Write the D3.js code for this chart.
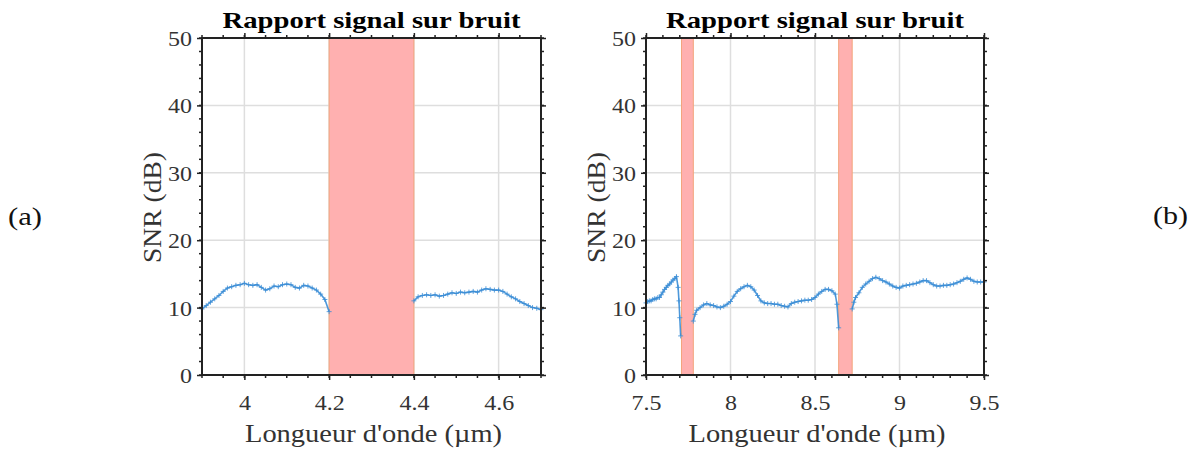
<!DOCTYPE html>
<html><head><meta charset="utf-8">
<script src="https://cdn.jsdelivr.net/npm/d3@7"></script>
<style>
body{margin:0;background:#fff;}
svg text{font-family:"Liberation Serif","Times New Roman",Tinos,serif !important;}
</style></head>
<body><svg id="c" width="1196" height="452"></svg>
<script>
// ---- data ----
const titleText = "Rapport signal sur bruit";
const xLabel = "Longueur d'onde (\u00b5m)";
const yLabel = "SNR (dB)";
const panelLabels = ["(a)", "(b)"];

const yTicks = [0, 10, 20, 30, 40, 50];
const xTicksA = [4, 4.2, 4.4, 4.6];
const xTicksB = [7.5, 8, 8.5, 9, 9.5];

const bandsA = [[4.2, 4.4]];
const bandsB = [[7.71, 7.78], [8.64, 8.72]];

const snrA1 = [[3.90,9.8],[3.91,10.3],[3.92,10.8],[3.93,11.3],[3.94,11.8],[3.95,12.4],[3.96,12.9],[3.97,13.1],[3.98,13.3],[3.99,13.4],[4.00,13.6],[4.01,13.4],[4.02,13.3],[4.03,13.4],[4.04,13.0],[4.05,12.6],[4.06,12.8],[4.07,13.2],[4.08,13.1],[4.09,13.4],[4.10,13.5],[4.11,13.4],[4.12,13.0],[4.13,12.9],[4.14,13.3],[4.15,13.2],[4.16,12.9],[4.17,12.6],[4.18,12.0],[4.19,11.2],[4.20,9.4]];
const snrA2 = [[4.40,11.0],[4.41,11.6],[4.42,11.8],[4.43,11.9],[4.44,11.8],[4.45,11.9],[4.46,11.7],[4.47,11.8],[4.48,12.0],[4.49,12.2],[4.50,12.1],[4.51,12.3],[4.52,12.2],[4.53,12.3],[4.54,12.4],[4.55,12.3],[4.56,12.6],[4.57,12.8],[4.58,12.7],[4.59,12.6],[4.60,12.6],[4.61,12.4],[4.62,12.0],[4.63,11.6],[4.64,11.3],[4.65,10.9],[4.66,10.6],[4.67,10.3],[4.68,10.0],[4.69,9.9],[4.70,9.7]];
const snrB1 = [[7.50,10.7],[7.51,10.9],[7.52,11.0],[7.53,11.0],[7.54,11.2],[7.55,11.3],[7.56,11.3],[7.57,11.5],[7.58,11.5],[7.59,11.9],[7.60,12.3],[7.61,12.7],[7.62,13.0],[7.63,13.3],[7.64,13.5],[7.65,13.8],[7.66,14.1],[7.67,14.3],[7.68,14.6],[7.69,13.0],[7.695,11.0],[7.70,8.5],[7.705,5.8]];
const snrB2 = [[7.78,8.0],[7.79,9.0],[7.80,9.6],[7.82,10.0],[7.84,10.4],[7.86,10.6],[7.88,10.4],[7.90,10.3],[7.92,10.1],[7.94,10.0],[7.96,10.2],[7.98,10.5],[8.00,10.9],[8.02,11.7],[8.04,12.4],[8.06,12.8],[8.08,13.1],[8.10,13.3],[8.12,13.1],[8.14,12.6],[8.16,11.8],[8.18,11.0],[8.20,10.7],[8.22,10.6],[8.24,10.6],[8.26,10.5],[8.28,10.5],[8.30,10.3],[8.32,10.2],[8.34,10.1],[8.36,10.6],[8.38,10.8],[8.40,10.9],[8.42,11.0],[8.44,11.1],[8.46,11.1],[8.48,11.2],[8.50,11.5],[8.52,12.0],[8.54,12.4],[8.56,12.7],[8.58,12.7],[8.60,12.5],[8.62,12.0],[8.63,10.5],[8.64,7.0]];
const snrB3 = [[8.72,9.8],[8.73,10.8],[8.74,11.5],[8.76,12.2],[8.78,13.0],[8.80,13.5],[8.82,13.9],[8.84,14.3],[8.86,14.5],[8.88,14.3],[8.90,14.0],[8.92,13.8],[8.94,13.5],[8.96,13.2],[8.98,13.0],[9.00,12.9],[9.02,13.2],[9.04,13.3],[9.06,13.4],[9.08,13.5],[9.10,13.6],[9.12,13.8],[9.14,14.0],[9.16,14.0],[9.18,13.7],[9.20,13.4],[9.22,13.2],[9.24,13.2],[9.26,13.3],[9.28,13.3],[9.30,13.4],[9.32,13.5],[9.34,13.7],[9.36,13.9],[9.38,14.2],[9.40,14.4],[9.42,14.2],[9.44,13.9],[9.46,13.8],[9.48,13.8],[9.50,13.8]];

// ---- drawing ----
const svg = d3.select("#c");
const plotTop = 38, plotBottom = 375;
const textCol = "#333";
const lineCol = "#3a8dd6";
const FONT = '"Liberation Serif","Times New Roman",serif';

function stretch(sel, k){
  sel.each(function(){
    const w = this.getComputedTextLength();
    d3.select(this).attr("textLength", w * k).attr("lengthAdjust", "spacingAndGlyphs");
  });
}
function fitTo(sel, target){
  sel.attr("textLength", target).attr("lengthAdjust", "spacingAndGlyphs");
}

function panel(cfg){
  const x = d3.scaleLinear().domain(cfg.domain).range([cfg.left, cfg.right]);
  const y = d3.scaleLinear().domain([0, 50]).range([plotBottom, plotTop]);
  const g = svg.append("g");

  // grid
  g.selectAll(".gx").data(cfg.xTicks).enter().append("line")
    .attr("x1", d=>x(d)).attr("x2", d=>x(d)).attr("y1", plotTop).attr("y2", plotBottom)
    .attr("stroke", "#dedede").attr("stroke-width", 1.5);
  g.selectAll(".gy").data(yTicks.slice(1, -1)).enter().append("line")
    .attr("x1", cfg.left).attr("x2", cfg.right).attr("y1", d=>y(d)).attr("y2", d=>y(d))
    .attr("stroke", "#dedede").attr("stroke-width", 1.5);

  // bands
  g.selectAll(".band").data(cfg.bands).enter().append("rect")
    .attr("x", d=>x(d[0])).attr("width", d=>x(d[1]) - x(d[0]))
    .attr("y", plotTop).attr("height", plotBottom - plotTop)
    .attr("fill", "#ffb0b0").attr("stroke", "#f3a47c").attr("stroke-width", 1);

  // data
  const line = d3.line().x(d=>x(d[0])).y(d=>y(d[1]));
  cfg.series.forEach(s => {
    g.append("path").datum(s).attr("d", line).attr("fill", "none")
      .attr("stroke", lineCol).attr("stroke-width", 1.6).attr("opacity", 0.9);
    g.selectAll(null).data(s).enter().append("path")
      .attr("d", d => { const px = x(d[0]), py = y(d[1]); return `M${px-2.5},${py}H${px+2.5}M${px},${py-2.5}V${py+2.5}`; })
      .attr("stroke", lineCol).attr("stroke-width", 1).attr("opacity", 0.8);
  });

  // axes with outward ticks on all four sides
  const xMinor = d3.range(cfg.domain[0], cfg.domain[1] + 1e-9, cfg.xMinorStep);
  const yMinor = d3.range(0, 50 + 1e-9, 2);
  const axB = d3.axisBottom(x).tickValues(cfg.xTicks).tickSize(5).tickFormat(d3.format("~g"));
  const gb = g.append("g").attr("transform", `translate(0,${plotBottom})`).call(axB);
  gb.attr("font-family", FONT);
  gb.select(".domain").remove();
  gb.selectAll("line").attr("stroke", "#222").attr("stroke-width", 1.5);
  gb.selectAll("text").attr("fill", textCol).style("font-size", "22px")
    .attr("y", 35).attr("dy", null);
  stretch(gb.selectAll("text"), 1.09);
  const gt = g.append("g").attr("transform", `translate(0,${plotTop})`).call(d3.axisTop(x).tickValues(cfg.xTicks).tickSize(5).tickFormat(""));
  gt.select(".domain").remove(); gt.selectAll("line").attr("stroke", "#222").attr("stroke-width", 1.5);
  [plotBottom, plotTop].forEach((yy, i) => {
    g.selectAll(null).data(xMinor).enter().append("line")
      .attr("x1", d=>x(d)).attr("x2", d=>x(d))
      .attr("y1", yy).attr("y2", i === 0 ? yy + 3 : yy - 3)
      .attr("stroke", "#222").attr("stroke-width", 1.5);
  });
  const axL = d3.axisLeft(y).tickValues(yTicks).tickSize(5);
  const gl = g.append("g").attr("transform", `translate(${cfg.left},0)`).call(axL);
  gl.attr("font-family", FONT);
  gl.select(".domain").remove();
  gl.selectAll("line").attr("stroke", "#222").attr("stroke-width", 1.5);
  gl.selectAll("text").attr("fill", textCol).style("font-size", "22px").attr("x", -10).attr("dy", "0.34em");
  stretch(gl.selectAll("text"), 1.09);
  const gr = g.append("g").attr("transform", `translate(${cfg.right},0)`).call(d3.axisRight(y).tickValues(yTicks).tickSize(5).tickFormat(""));
  gr.select(".domain").remove(); gr.selectAll("line").attr("stroke", "#222").attr("stroke-width", 1.5);
  [cfg.left, cfg.right].forEach((xx, i) => {
    g.selectAll(null).data(yMinor).enter().append("line")
      .attr("y1", d=>y(d)).attr("y2", d=>y(d))
      .attr("x1", xx).attr("x2", i === 0 ? xx - 3 : xx + 3)
      .attr("stroke", "#222").attr("stroke-width", 1.5);
  });

  // box
  g.append("rect").attr("x", cfg.left).attr("y", plotTop)
    .attr("width", cfg.right - cfg.left).attr("height", plotBottom - plotTop)
    .attr("fill", "none").attr("stroke", "#222").attr("stroke-width", 2);

  // texts
  const cx = (cfg.left + cfg.right) / 2;
  const t = g.append("text").attr("x", cx).attr("y", 28).attr("text-anchor", "middle")
    .style("font-size", "23px").style("font-weight", "bold").attr("fill", "#000").text(titleText);
  fitTo(t, 298);
  const xl = g.append("text").attr("x", cx + 2).attr("y", 442).attr("text-anchor", "middle")
    .style("font-size", "25px").attr("fill", textCol).text(xLabel);
  fitTo(xl, 257);
  const yl = g.append("text").attr("transform", `translate(${cfg.left - 41},${(plotTop + plotBottom) / 2 + 1}) rotate(-90)`)
    .attr("text-anchor", "middle").style("font-size", "26px").attr("fill", textCol).text(yLabel);
  fitTo(yl, 111);
}

panel({domain: [3.9, 4.7], left: 202, right: 541, xTicks: xTicksA, xMinorStep: 0.05, bands: bandsA, series: [snrA1, snrA2]});
panel({domain: [7.5, 9.5], left: 646, right: 984, xTicks: xTicksB, xMinorStep: 0.1, bands: bandsB, series: [snrB1, snrB2, snrB3]});

const la = svg.append("text").attr("x", 8).attr("y", 225).style("font-size", "25px").attr("fill", "#111").text(panelLabels[0]);
fitTo(la, 34);
const lb = svg.append("text").attr("x", 1153).attr("y", 224).style("font-size", "25px").attr("fill", "#111").text(panelLabels[1]);
fitTo(lb, 35);
</script></body></html>
